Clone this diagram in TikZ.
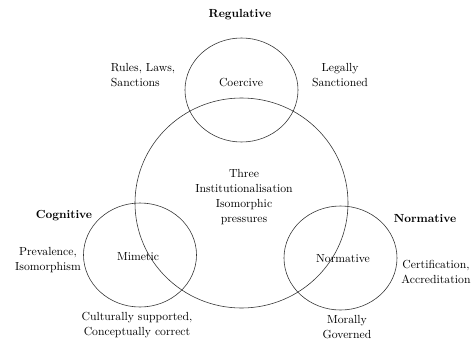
\documentclass[tikz,border=0pt]{standalone}
\usetikzlibrary{shapes,positioning}

\begin{document}
\begin{tikzpicture}[x=0.03cm, y=-0.03cm,
    every node/.style={align=center, font=\fontsize{10}{13}\selectfont},
    pressure/.style={ellipse, draw=black!80, line width=0.5pt, minimum width=3.39cm, minimum height=3.12cm, inner sep=0pt},
    heading/.style={font=\fontsize{10}{13}\selectfont\bfseries}]
    \useasboundingbox (0,0) rectangle (475,340);
                \node[ellipse, draw=black!80, line width=0.5pt, minimum width=6.39cm, minimum height=6.3cm] (three) at (241.5,203) {};
                \node[pressure] (coercive) at (241.5,90) {};
                \node[pressure] (mimetic) at (140,255) {};
                \node[pressure] (normative) at (340.5,258) {};

                \node (threetext) at (244,197) {Three\\Institutionalisation\\Isomorphic\\pressures};
                \node (coercivetext) at (241,82) {Coercive};
                \node (mimetictext) at (138,257) {Mimetic};
                \node (normativetext) at (343,259) {Normative};

                \node[heading] (regulative) at (240,15) {Regulative};
                \node[heading] (cognitive) at (64,216) {Cognitive};
                \node[heading] (normhead) at (425,219) {Normative};

                \node[align=left] (rules) at (143,75) {Rules, Laws,\\Sanctions};
                \node (legally) at (340,75) {Legally\\Sanctioned};
                \node (prevalence) at (48,260) {Prevalence,\\Isomorphism};
                \node (culturally) at (137,325) {Culturally supported,\\Conceptually correct};
                \node (certification) at (436,272) {Certification,\\Accreditation};
                \node (morally) at (347,327) {Morally\\Governed};
            \end{tikzpicture}
\end{document}
